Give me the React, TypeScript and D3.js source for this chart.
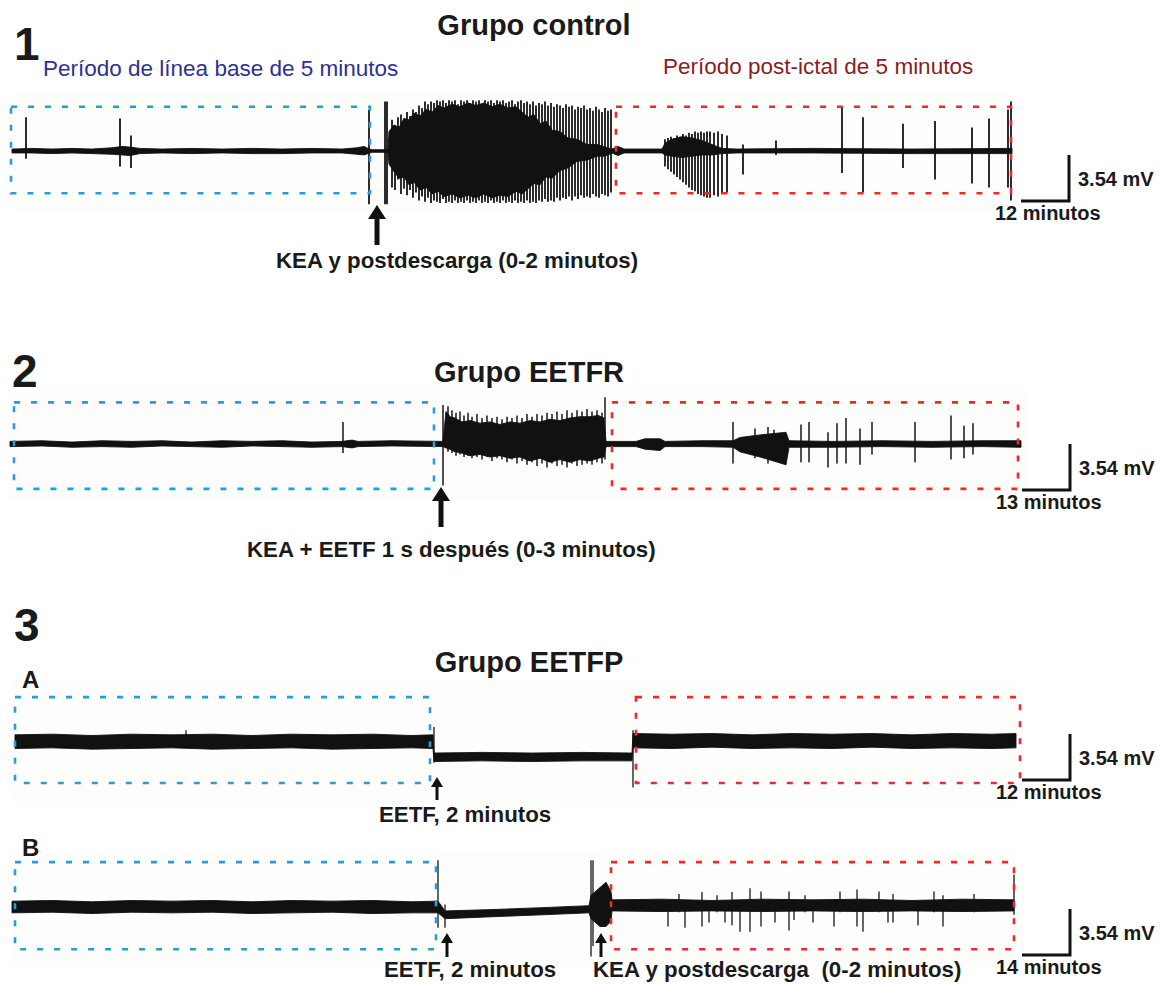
import React from "react";
import * as d3 from "d3";

const W = 1161;
const H = 984;
const FONT = "'Liberation Sans', Arial, Helvetica, sans-serif";
const BLUE = "#2b9cd8";
const RED = "#ec2a2e";
const MV_PX = 13; // vertical gain, px per mV

// [time (s), upper envelope (mV), lower envelope (mV)]
type Env = [number, number, number];
// [time (s), peak (mV), trough (mV)]
type Spike = [number, number, number];

// ---- Grupo control ----
const band1: Env[] = [
  [0, 0.15, -0.15], [20, 0.2, -0.15], [40, 0.15, -0.2], [60, 0.2, -0.15], [80, 0.15, -0.2],
  [100, 0.25, -0.25], [110, 0.35, -0.3], [118, 0.3, -0.35], [128, 0.2, -0.2], [150, 0.15, -0.15],
  [180, 0.2, -0.2], [210, 0.15, -0.15], [240, 0.2, -0.2], [270, 0.15, -0.2], [300, 0.2, -0.15],
  [330, 0.15, -0.15], [345, 0.25, -0.25], [352, 0.35, -0.3], [356, 0.2, -0.2], [360, 0.1, -0.1],
  [376, 0.1, -0.1],
  // ictal discharge core
  [377, 1.5, -1.0], [382, 2.0, -1.6], [387, 1.8, -2.1], [392, 2.5, -2.0], [397, 2.4, -2.6], [402, 2.9, -2.4],
  [408, 2.7, -3.0], [414, 3.2, -2.8], [420, 3.0, -3.3], [426, 3.5, -3.1], [432, 3.3, -3.5], [440, 3.6, -3.3],
  [448, 3.4, -3.6], [456, 3.7, -3.4], [464, 3.5, -3.6], [472, 3.7, -3.3], [480, 3.4, -3.6], [488, 3.6, -3.4],
  [496, 3.3, -3.5], [504, 3.4, -3.1], [510, 3.0, -3.3], [516, 2.6, -2.9], [522, 2.8, -2.5], [528, 2.1, -2.6],
  [534, 2.3, -2.0], [540, 1.6, -2.1], [548, 1.5, -1.5], [556, 1.0, -1.3], [565, 0.9, -0.8], [575, 0.5, -0.7],
  [585, 0.5, -0.4], [593, 0.3, -0.4], [600, 0.15, -0.15],
  [606, 0.35, -0.35], [612, 0.15, -0.15], [650, 0.15, -0.15], [653, 0.6, -0.3], [660, 0.9, -0.4],
  [670, 1.1, -0.5], [680, 1.0, -0.4], [690, 0.8, -0.3], [700, 0.5, -0.3], [710, 0.2, -0.2],
  [725, 0.15, -0.15], [800, 0.2, -0.15], [900, 0.15, -0.2], [1000, 0.2, -0.2],
];
const spikes1: Spike[] = [
  [14, 2.6, -0.6], [108, 2.5, -1.2], [119, 1.2, -1.3], [357, 3.2, -4.1], [373, 3.8, -4.1], [375, 3.8, -4.1],
  // ictal discharge
  [380, 2.4, -2.8], [383, 2.0, -3.0], [386, 2.6, -2.2], [389, 2.8, -3.3], [392, 2.5, -2.9], [395, 3.0, -3.4],
  [398, 2.7, -3.0], [401, 3.2, -3.6], [404, 3.0, -3.2], [407, 3.5, -3.8], [410, 3.3, -3.5], [413, 3.8, -3.9],
  [416, 3.6, -3.6], [419, 3.8, -4.0], [422, 3.7, -3.8], [425, 3.9, -3.9], [428, 3.8, -4.0], [431, 3.9, -3.7],
  [434, 3.7, -4.0], [437, 3.9, -3.9], [440, 3.8, -4.0], [443, 3.9, -3.8], [446, 3.6, -4.0], [449, 3.9, -3.9],
  [452, 3.8, -4.0], [455, 3.9, -3.8], [458, 3.7, -4.0], [461, 3.9, -3.9], [464, 3.8, -4.0], [467, 3.9, -3.8],
  [470, 3.6, -4.0], [473, 3.9, -3.9], [476, 3.8, -4.0], [479, 3.9, -3.8], [482, 3.7, -4.0], [485, 3.9, -3.9],
  [488, 3.8, -4.0], [491, 3.9, -3.8], [494, 3.7, -4.0], [497, 3.8, -3.9], [500, 3.9, -4.0], [503, 3.6, -3.8],
  [506, 3.8, -4.0], [509, 3.9, -3.9], [512, 3.7, -4.0], [515, 3.8, -3.8], [518, 3.6, -4.0], [521, 3.8, -3.9],
  [524, 3.5, -4.0], [527, 3.7, -3.8], [530, 3.6, -3.9], [533, 3.8, -3.7], [536, 3.5, -3.9], [539, 3.7, -3.8],
  [542, 3.4, -3.9], [545, 3.6, -3.6], [548, 3.5, -3.8], [551, 3.3, -3.6], [554, 3.6, -3.7], [557, 3.4, -3.5],
  [560, 3.5, -3.8], [563, 3.2, -3.5], [566, 3.4, -3.7], [569, 3.3, -3.4], [572, 3.5, -3.6], [575, 3.2, -3.5],
  [578, 3.3, -3.6], [581, 3.1, -3.3], [584, 3.4, -3.5], [587, 3.2, -3.6], [590, 3.0, -3.3], [593, 3.3, -3.4],
  [596, 3.1, -3.5], [599, 3.2, -3.2],
  // post-ictal burst
  [653, 0.9, -1.2], [656, 1.0, -1.4], [659, 1.1, -1.6], [662, 1.0, -1.8], [665, 1.2, -2.0], [668, 1.1, -2.2],
  [671, 1.3, -2.4], [674, 1.2, -2.6], [677, 1.4, -2.8], [680, 1.3, -3.0], [683, 1.5, -3.1], [686, 1.4, -3.3],
  [689, 1.5, -3.4], [692, 1.4, -3.5], [695, 1.5, -3.6], [698, 1.5, -3.6], [702, 1.4, -3.4], [706, 1.5, -3.5],
  [710, 1.3, -3.3], [715, 1.2, -3.2], [731, 0.5, -1.8],
  // isolated spikes
  [764, 0.8, -0.3], [830, 3.3, -1.7], [851, 2.6, -3.2], [891, 2.1, -1.3], [923, 2.3, -2.2],
  [960, 1.8, -2.5], [977, 2.5, -2.8], [996, 3.2, -2.8], [999, 3.8, -3.8],
];

// ---- Grupo EETFR ----
const band2: Env[] = [
  [-2, 0.2, -0.2], [30, 0.25, -0.15], [60, 0.15, -0.25], [90, 0.25, -0.2], [120, 0.2, -0.25], [150, 0.25, -0.15],
  [180, 0.15, -0.2], [210, 0.25, -0.25], [240, 0.2, -0.15], [270, 0.25, -0.2], [300, 0.15, -0.25], [330, 0.2, -0.2],
  [340, 0.3, -0.3], [346, 0.2, -0.2], [380, 0.25, -0.15], [431, 0.2, -0.2],
  // ictal discharge core
  [434, 2.5, -0.3], [438, 2.1, -0.4], [443, 2.0, -0.6], [450, 1.7, -0.7], [458, 1.8, -0.9], [468, 1.6, -0.8],
  [478, 1.7, -1.0], [488, 1.5, -0.9], [498, 1.7, -1.1], [508, 1.6, -1.0], [518, 1.8, -1.3], [528, 1.7, -1.1],
  [538, 1.9, -1.4], [548, 1.8, -1.2], [558, 2.0, -1.4], [568, 2.1, -1.2], [578, 2.1, -1.3], [586, 2.2, -1.1],
  [592, 2.0, -1.0],
  [594, 0.2, -0.2], [624, 0.2, -0.2], [633, 0.4, -0.4], [648, 0.4, -0.5], [653, 0.2, -0.2], [690, 0.25, -0.2],
  [721, 0.25, -0.25], [728, 0.5, -0.6], [748, 0.7, -1.0], [774, 0.9, -1.6], [777, 0.25, -0.25], [820, 0.2, -0.25],
  [870, 0.25, -0.2], [920, 0.2, -0.25], [970, 0.25, -0.2], [1009, 0.25, -0.25],
];
const spikes2: Spike[] = [
  [331, 1.7, -0.7], [431, 3.0, -3.2], [593, 3.6, -1.2],
  // ictal discharge
  [436, 2.9, -0.6], [440, 2.6, -0.7], [444, 2.4, -0.9], [448, 2.5, -0.8], [452, 2.2, -1.0], [456, 2.4, -0.9],
  [460, 2.1, -1.1], [465, 2.3, -1.0], [470, 2.0, -1.2], [475, 2.2, -1.0], [480, 2.0, -1.3], [485, 2.1, -1.1],
  [490, 1.9, -1.2], [495, 2.1, -1.4], [500, 2.0, -1.2], [505, 2.2, -1.5], [510, 2.0, -1.3], [515, 2.3, -1.6],
  [520, 2.1, -1.4], [525, 2.3, -1.7], [530, 2.2, -1.5], [535, 2.4, -1.8], [540, 2.3, -1.5], [545, 2.5, -1.7],
  [550, 2.3, -1.6], [555, 2.6, -1.8], [560, 2.4, -1.5], [565, 2.6, -1.7], [570, 2.5, -1.6], [575, 2.7, -1.5],
  [580, 2.5, -1.6], [585, 2.6, -1.4], [590, 2.4, -1.5],
  // post-ictal spikes
  [721, 1.7, -1.5], [743, 1.2, -1.1], [756, 1.3, -1.5], [762, 1.1, -1.2], [789, 1.5, -1.4], [797, 1.7, -1.4],
  [816, 0.9, -1.8], [825, 1.6, -1.5], [834, 2.0, -1.5], [848, 1.2, -1.6], [860, 1.7, -0.8], [903, 1.7, -1.4],
  [939, 2.2, -1.2], [952, 1.4, -1.1], [961, 1.6, -0.8],
];

// ---- Grupo EETFP, A ----
const band3a: Env[] = [
  [3, 0.55, -0.5], [40, 0.6, -0.45], [80, 0.5, -0.55], [120, 0.6, -0.5], [160, 0.55, -0.45], [200, 0.6, -0.55],
  [240, 0.5, -0.5], [280, 0.6, -0.45], [320, 0.55, -0.55], [360, 0.6, -0.5], [400, 0.5, -0.45], [421, 0.55, -0.5],
  [422, -0.85, -1.5], [470, -0.8, -1.45], [520, -0.85, -1.5], [570, -0.8, -1.45], [620, -0.85, -1.45],
  [621, 0.65, -0.45], [660, 0.6, -0.5], [700, 0.65, -0.4], [740, 0.55, -0.5], [780, 0.65, -0.45],
  [820, 0.6, -0.5], [860, 0.65, -0.4], [900, 0.55, -0.5], [940, 0.65, -0.45], [980, 0.6, -0.5], [1004, 0.65, -0.45],
];
const spikes3a: Spike[] = [[174, 0.9, -0.3], [422, 1.15, -1.6], [621, 0.9, -3.5]];

// ---- Grupo EETFP, B ----
const band3b: Env[] = [
  [0, 0.45, -0.45], [40, 0.5, -0.4], [80, 0.4, -0.5], [120, 0.5, -0.4], [160, 0.45, -0.45], [200, 0.5, -0.4],
  [240, 0.4, -0.5], [280, 0.5, -0.45], [320, 0.45, -0.4], [360, 0.5, -0.5], [400, 0.4, -0.45], [426, 0.45, -0.45],
  [433, -0.3, -0.9], [480, -0.2, -0.75], [530, -0.05, -0.6], [577, 0.1, -0.45], [579, 0.9, -0.9],
  [588, 1.5, -1.5], [594, 1.9, -1.5], [599, 1.2, -1.1], [600, 0.55, -0.3], [650, 0.6, -0.35], [700, 0.5, -0.3],
  [750, 0.6, -0.35], [800, 0.55, -0.3], [850, 0.6, -0.35], [900, 0.5, -0.3], [950, 0.6, -0.35], [1002, 0.55, -0.3],
];
const spikes3b: Spike[] = [
  [426, 3.6, -1.6], [433, 0.2, -1.6], [579, 3.6, -3.8], [581, 3.6, -3.0],
  [656, 0.3, -1.5], [667, 1.0, -0.4], [673, 0.3, -1.6], [690, 1.15, -1.5], [697, 0.3, -1.2], [705, 0.9, -0.4],
  [713, 0.4, -1.2], [720, 1.15, -1.4], [728, 0.4, -1.9], [738, 1.45, -1.9], [749, 1.2, -1.5], [763, 0.4, -1.2],
  [777, 1.2, -1.8], [782, 0.4, -1.0], [793, 0.9, -0.4], [801, 0.4, -1.2], [822, 0.4, -1.5], [828, 1.2, -0.4],
  [845, 1.35, -1.5], [851, 0.4, -1.9], [867, 1.2, -0.4], [876, 0.4, -1.2], [881, 1.0, -1.2], [906, 0.4, -1.4],
  [922, 1.2, -0.4], [931, 0.9, -1.5], [962, 1.0, -0.4], [1002, 2.5, -0.6],
];

// analysis windows [start s, end s]
const windows1 = { base: [-1, 358], post: [604, 999] };
const windows2 = { base: [2, 422], post: [600, 1006] };
const windows3a = { base: [3, 418], post: [624, 1008] };
const windows3b = { base: [3, 424], post: [599, 1002] };

const SCALE_MV = 3.54;
const scaleLabels = ["12 minutos", "13 minutos", "12 minutos", "14 minutos"];

const xScale = d3.scaleLinear().domain([0, 1010]).range([12, 1022]);

interface Panel {
  base: number;
  band: Env[];
  spikes: Spike[];
  spikeWidth: number;
  win: { base: number[]; post: number[] };
  boxV: [number, number];
  bg: [number, number, number, number];
  barX: number;
  barBottom: number;
  barLabel: string;
}

const panels: Panel[] = [
  { base: 151, band: band1, spikes: spikes1, spikeWidth: 1.8, win: windows1, boxV: [3.4, -3.25], bg: [12, 92, 1012, 212], barX: 1069, barBottom: 201, barLabel: scaleLabels[0] },
  { base: 444, band: band2, spikes: spikes2, spikeWidth: 1.5, win: windows2, boxV: [3.2, -3.45], bg: [9, 390, 1030, 500], barX: 1070, barBottom: 490, barLabel: scaleLabels[1] },
  { base: 742, band: band3a, spikes: spikes3a, spikeWidth: 1.3, win: windows3a, boxV: [3.45, -3.15], bg: [14, 680, 1016, 805], barX: 1070, barBottom: 780, barLabel: scaleLabels[2] },
  { base: 907, band: band3b, spikes: spikes3b, spikeWidth: 1.3, win: windows3b, boxV: [3.45, -3.25], bg: [10, 852, 1016, 965], barX: 1070, barBottom: 955, barLabel: scaleLabels[3] },
];

function Arrow({ x, tip, bottom, big }: { x: number; tip: number; bottom: number; big: boolean }) {
  const hw = big ? 9 : 6;
  const hh = big ? 14 : 10;
  const sw = big ? 5 : 3;
  const d = `M${x},${tip} L${x + hw},${tip + hh} L${x + sw / 2},${tip + hh} L${x + sw / 2},${bottom} L${x - sw / 2},${bottom} L${x - sw / 2},${tip + hh} L${x - hw},${tip + hh} Z`;
  return <path d={d} fill="#111" />;
}

function Trace({ p }: { p: Panel }) {
  const y = d3.scaleLinear().domain([-4, 4]).range([p.base + 4 * MV_PX, p.base - 4 * MV_PX]);
  const area = d3
    .area<Env>()
    .x((d) => xScale(d[0]))
    .y0((d) => y(d[2]))
    .y1((d) => y(d[1]));
  const [bx0, by0, bx1, by1] = p.bg;
  const box = (w: number[], color: string) => (
    <rect
      x={xScale(w[0])}
      y={y(p.boxV[0])}
      width={xScale(w[1]) - xScale(w[0])}
      height={y(p.boxV[1]) - y(p.boxV[0])}
      fill="none"
      stroke={color}
      strokeWidth={2.6}
      strokeDasharray="6 11"
    />
  );
  const barH = y(0) - y(SCALE_MV);
  return (
    <g>
      <rect x={bx0} y={by0} width={bx1 - bx0} height={by1 - by0} fill="#fdfdfc" />
      {p.spikes.map((s, i) => (
        <line key={i} x1={xScale(s[0])} x2={xScale(s[0])} y1={y(s[1])} y2={y(s[2])} stroke="#161616" strokeWidth={p.spikeWidth} />
      ))}
      <path d={area(p.band) || ""} fill="#111" stroke="#111" strokeWidth={0.9} strokeLinejoin="round" />
      {box(p.win.base, BLUE)}
      {box(p.win.post, RED)}
      <path
        d={`M${p.barX},${p.barBottom - barH} L${p.barX},${p.barBottom} L${p.barX - 48},${p.barBottom}`}
        fill="none"
        stroke="#111"
        strokeWidth={3}
      />
      <text x={p.barX + 9} y={p.barBottom - 15} fontSize={20} fontWeight="bold" fill="#1a1a1a">
        {SCALE_MV.toFixed(2)} mV
      </text>
      <text x={p.barX - 74} y={p.barBottom + 19} fontSize={20} fontWeight="bold" fill="#1a1a1a">
        {p.barLabel}
      </text>
    </g>
  );
}

export default function App() {
  return (
    <div style={{ position: "absolute", left: 0, top: 0 }}>
      <svg width={W} height={H} viewBox={`0 0 ${W} ${H}`} style={{ display: "block", background: "#fff" }} fontFamily={FONT}>
        {panels.map((p, i) => (
          <Trace key={i} p={p} />
        ))}

        {/* panel numbers and titles */}
        <text x={14} y={60} fontSize={46} fontWeight="bold" fill="#1a1a1a">1</text>
        <text x={12} y={387} fontSize={46} fontWeight="bold" fill="#1a1a1a">2</text>
        <text x={14} y={641} fontSize={46} fontWeight="bold" fill="#1a1a1a">3</text>
        <text x={22} y={688} fontSize={24} fontWeight="bold" fill="#1a1a1a">A</text>
        <text x={22} y={856} fontSize={24} fontWeight="bold" fill="#1a1a1a">B</text>

        <text x={534} y={35} fontSize={29} fontWeight="bold" textAnchor="middle" fill="#1a1a1a">Grupo control</text>
        <text x={529} y={382} fontSize={29} fontWeight="bold" textAnchor="middle" fill="#1a1a1a">Grupo EETFR</text>
        <text x={529} y={672} fontSize={29} fontWeight="bold" textAnchor="middle" fill="#1a1a1a">Grupo EETFP</text>

        <text x={43} y={76} fontSize={22.5} fill="#2e3192">Período de línea base de 5 minutos</text>
        <text x={663} y={74} fontSize={22.5} fill="#8b1c1f">Período post-ictal de 5 minutos</text>

        {/* stimulation markers */}
        <Arrow x={377} tip={205} bottom={245} big />
        <text x={276} y={268} fontSize={22.3} fontWeight="bold" fill="#1a1a1a">KEA y postdescarga (0-2 minutos)</text>

        <Arrow x={441} tip={487} bottom={527} big />
        <text x={247} y={557} fontSize={22.3} fontWeight="bold" fill="#1a1a1a">KEA + EETF 1 s después (0-3 minutos)</text>

        <Arrow x={437} tip={777} bottom={800} big={false} />
        <text x={379} y={822} fontSize={22.3} fontWeight="bold" fill="#1a1a1a">EETF, 2 minutos</text>

        <Arrow x={447} tip={933} bottom={957} big={false} />
        <Arrow x={601} tip={933} bottom={957} big={false} />
        <text x={384} y={977} fontSize={22.3} fontWeight="bold" fill="#1a1a1a">EETF, 2 minutos</text>
        <text x={593} y={977} fontSize={22.3} fontWeight="bold" fill="#1a1a1a" style={{ whiteSpace: "pre" }}>
          {"KEA y postdescarga  (0-2 minutos)"}
        </text>
      </svg>
    </div>
  );
}
